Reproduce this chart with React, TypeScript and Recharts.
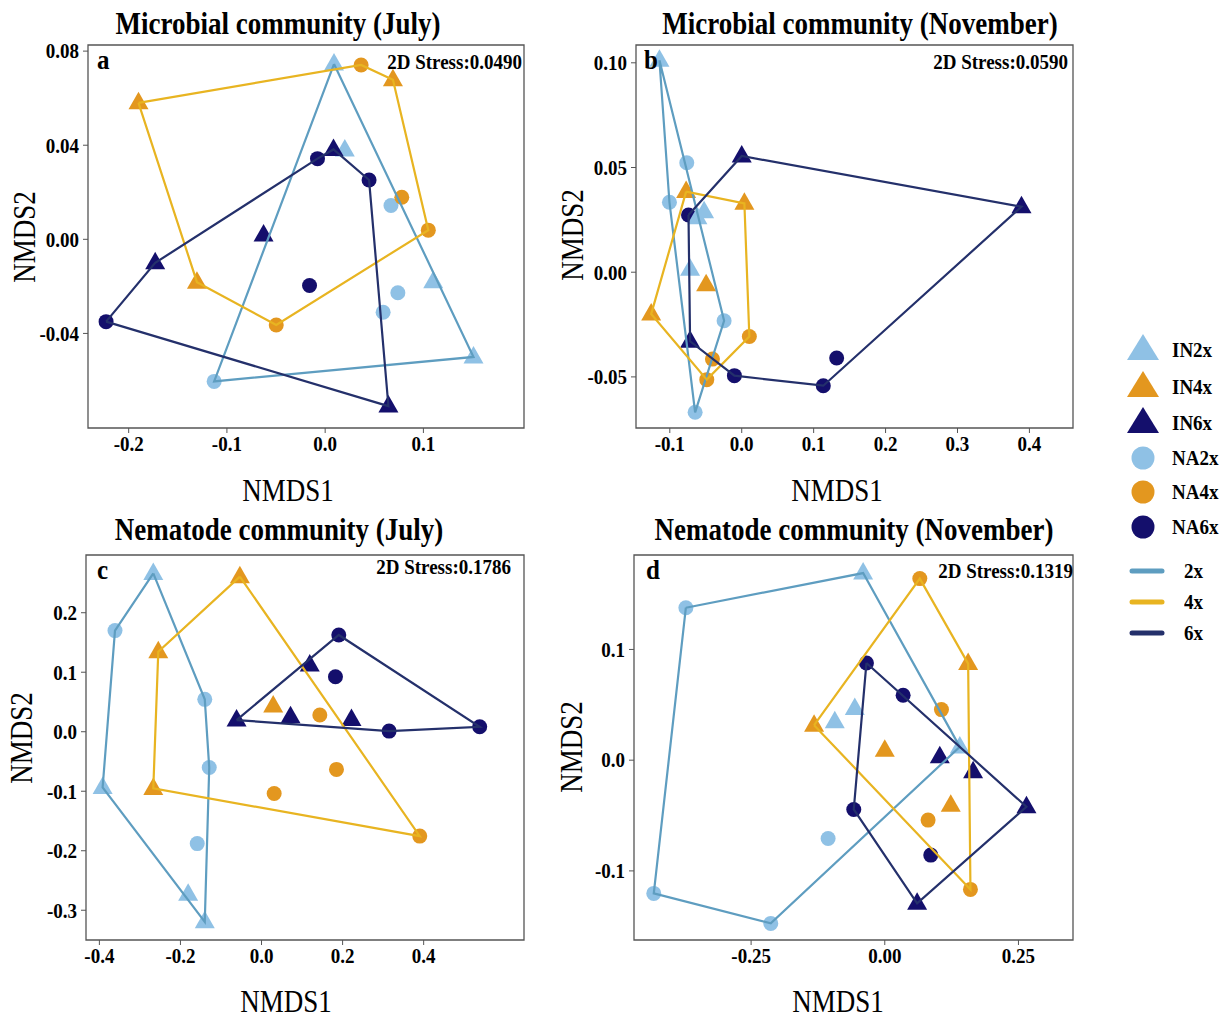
// NMDS ordination, four panels (microbial / nematode, July / November).
import React from "react";
import { ScatterChart, Scatter, XAxis, YAxis, ReferenceArea } from "recharts";

type Pt = { x: number; y: number };
const pts = (rows: number[][]): Pt[] => rows.map(([x, y]) => ({ x, y }));

// colours: points and hull lines per ploidy
const PT2 = "#8fc1e5";
const PT4 = "#e3971f";
const PT6 = "#140f6c";
const LN2 = "#5e9dc0";
const LN4 = "#e8b421";
const LN6 = "#24306b";
const SERIF = "'Liberation Serif', 'Times New Roman', serif";
const STRETCH = 1.13; // glyphs in the original are a little taller than Liberation Serif

// ---- panel a: microbial, July
const aIN2x = pts([[0.009, 0.0745], [0.02, 0.038], [0.11, -0.018], [0.151, -0.05]]);
const aNA2x = pts([[0.067, 0.0144], [0.074, -0.0227], [0.059, -0.031], [-0.113, -0.0604]]);
const aIN4x = pts([[-0.19, 0.058], [0.069, 0.0678], [-0.1305, -0.0182]]);
const aNA4x = pts([[0.0366, 0.0741], [0.078, 0.0179], [0.105, 0.0039], [-0.0498, -0.0364]]);
const aIN6x = pts([[0.0085, 0.0382], [-0.0627, 0.0018], [-0.173, -0.01], [0.0644, -0.0709]]);
const aNA6x = pts([[-0.0078, 0.0343], [0.0447, 0.0252], [-0.0159, -0.0196], [-0.223, -0.035]]);
// hull vertex order, indices into [...IN, ...NA]
const aHull2 = [0, 3, 7, 0];
const aHull4 = [0, 3, 1, 5, 6, 2, 0];
const aHull6 = [7, 2, 4, 0, 5, 3, 7];

// ---- panel b: microbial, November
const bIN2x = pts([[-0.1144, 0.1012], [-0.0616, 0.026], [-0.0523, 0.0289], [-0.0718, 0.0014]]);
const bNA2x = pts([[-0.0764, 0.0523], [-0.1005, 0.0334], [-0.0245, -0.0232], [-0.0648, -0.0669]]);
const bIN4x = pts([[-0.0773, 0.0385], [0.0037, 0.0329], [-0.0495, -0.006], [-0.1259, -0.02]]);
const bNA4x = pts([[0.0106, -0.0307], [-0.0407, -0.0415], [-0.0486, -0.0513]]);
const bIN6x = pts([[0.0, 0.0555], [0.389, 0.0313], [-0.0718, -0.033]]);
const bNA6x = pts([[-0.074, 0.0273], [-0.0102, -0.0494], [0.1134, -0.0542], [0.132, -0.041]]);
const bHull2 = [0, 6, 7, 5, 0];
const bHull4 = [0, 1, 4, 6, 3, 0];
const bHull6 = [3, 0, 1, 5, 4, 2, 3];

// ---- panel c: nematode, July
const cIN2x = pts([[-0.267, 0.266], [-0.392, -0.0936], [-0.181, -0.273], [-0.14, -0.3195]]);
const cNA2x = pts([[-0.3615, 0.17], [-0.14, 0.0544], [-0.129, -0.06], [-0.1586, -0.188]]);
const cIN4x = pts([[-0.0534, 0.2606], [-0.2547, 0.1345], [-0.267, -0.0953], [0.0288, 0.0432]]);
const cNA4x = pts([[0.1438, 0.028], [0.1849, -0.0633], [0.0312, -0.1037], [0.3903, -0.1754]]);
const cIN6x = pts([[-0.0616, 0.0196], [0.119, 0.112], [0.0715, 0.0252], [0.2219, 0.0207]]);
const cNA6x = pts([[0.1906, 0.1626], [0.1824, 0.0925], [0.3147, 0.0011], [0.5382, 0.0084]]);
const cHull2 = [0, 5, 6, 3, 1, 4, 0];
const cHull4 = [0, 7, 2, 1, 0];
const cHull6 = [0, 4, 7, 6, 0];

// ---- panel d: nematode, November
const dIN2x = pts([[-0.0405, 0.169], [-0.0561, 0.0466], [-0.0935, 0.0346], [0.1403, 0.012]]);
const dNA2x = pts([[-0.372, 0.1377], [-0.432, -0.1203], [-0.2132, -0.1474], [-0.106, -0.0707]]);
const dIN4x = pts([[-0.1322, 0.0316], [0.1559, 0.0872], [0.0, 0.009], [0.1234, -0.0406]]);
const dNA4x = pts([[0.0655, 0.164], [0.106, 0.0457], [0.081, -0.0541], [0.1602, -0.1167]]);
const dIN6x = pts([[0.1029, 0.003], [0.1652, -0.0105], [0.265, -0.0421], [0.0605, -0.1293]]);
const dNA6x = pts([[-0.0343, 0.0878], [0.0343, 0.0586], [-0.058, -0.0445], [0.086, -0.0857]]);
const dHull2 = [4, 0, 3, 6, 5, 4];
const dHull4 = [0, 4, 1, 7, 0];
const dHull6 = [4, 2, 3, 6, 4];

const legendPoints = ["IN2x", "IN4x", "IN6x", "NA2x", "NA4x", "NA6x"];
const legendLines = ["2x", "4x", "6x"];

type Group = { IN: Pt[]; NA: Pt[]; hull: number[]; pt: string; ln: string };

const triangle = (color: string) => (p: any) => (
  <polygon
    points={`${p.cx},${p.cy - 11} ${p.cx - 10},${p.cy + 6.5} ${p.cx + 10},${p.cy + 6.5}`}
    fill={color}
  />
);
const circle = (color: string) => (p: any) => <circle cx={p.cx} cy={p.cy} r={7.5} fill={color} />;
const nothing = () => <g />;

// tick label, bold serif, stretched a touch vertically around its own anchor
const tickLabel = (axis: "x" | "y", dec: number) => (p: any) => {
  const baseline = axis === "x" ? p.y + 19 * 0.72 * STRETCH : p.y + 19 * 0.34 * STRETCH;
  return (
    <text
      x={p.x}
      y={0}
      textAnchor={p.textAnchor}
      transform={`translate(0,${baseline}) scale(1,${STRETCH})`}
      fill="#000"
      fontSize={19}
      fontWeight={700}
      fontFamily={SERIF}
    >
      {Number(p.payload.value).toFixed(dec)}
    </text>
  );
};

function Panel(props: {
  box: number[];
  xDomain: number[];
  yDomain: number[];
  xTicks: number[];
  yTicks: number[];
  xDec: number;
  yDec: number;
  groups: Group[];
}) {
  const { box, xDomain, yDomain, xTicks, yTicks, xDec, yDec, groups } = props;
  const W = box[2] - box[0];
  const H = box[3] - box[1];
  return (
    <div style={{ position: "absolute", left: box[0] - 80, top: box[1] - 10 }}>
      <ScatterChart width={80 + W + 10} height={10 + H + 60} margin={{ top: 10, right: 10, bottom: 0, left: 0 }}>
        <XAxis
          type="number"
          dataKey="x"
          domain={xDomain}
          ticks={xTicks}
          interval={0}
          allowDataOverflow
          height={60}
          axisLine={false}
          tickLine={{ stroke: "#555" }}
          tickSize={5}
          tickMargin={3}
          tick={tickLabel("x", xDec)}
        />
        <YAxis
          type="number"
          dataKey="y"
          domain={yDomain}
          ticks={yTicks}
          interval={0}
          allowDataOverflow
          width={80}
          axisLine={false}
          tickLine={{ stroke: "#555" }}
          tickSize={5}
          tickMargin={4}
          tick={tickLabel("y", yDec)}
        />
        <ReferenceArea
          x1={xDomain[0]}
          x2={xDomain[1]}
          y1={yDomain[0]}
          y2={yDomain[1]}
          fill="none"
          stroke="#555"
          strokeWidth={1.3}
          ifOverflow="visible"
        />
        {groups.map((g, i) => (
          <Scatter key={"na" + i} data={g.NA} shape={circle(g.pt)} isAnimationActive={false} />
        ))}
        {groups.map((g, i) => (
          <Scatter key={"in" + i} data={g.IN} shape={triangle(g.pt)} isAnimationActive={false} />
        ))}
        {groups.map((g, i) => {
          const all = [...g.IN, ...g.NA];
          return (
            <Scatter
              key={"hull" + i}
              data={g.hull.map((k) => all[k])}
              line={{ stroke: g.ln, strokeWidth: 2.2 }}
              lineType="joint"
              shape={nothing}
              isAnimationActive={false}
            />
          );
        })}
      </ScatterChart>
    </div>
  );
}

function Txt(props: {
  x: number;
  baseline: number;
  fs: number;
  bold?: boolean;
  align?: "left" | "center" | "right";
  children: React.ReactNode;
}) {
  const { x, baseline, fs, bold, align = "left", children } = props;
  const left = align === "left" ? x : align === "center" ? x - 300 : x - 600;
  return (
    <div
      style={{
        position: "absolute",
        left,
        width: 600,
        top: baseline - 0.8375 * fs,
        fontSize: fs,
        lineHeight: `${fs}px`,
        fontWeight: bold ? 700 : 400,
        fontFamily: SERIF,
        textAlign: align,
        whiteSpace: "nowrap",
        color: "#000",
        transform: `scaleY(${STRETCH})`,
        transformOrigin: `50% ${0.8375 * fs}px`,
      }}
    >
      {children}
    </div>
  );
}

function YLabel({ cx, cy }: { cx: number; cy: number }) {
  return (
    <div
      style={{
        position: "absolute",
        left: cx,
        top: cy,
        transform: `translate(-50%, -50%) rotate(-90deg) scaleY(${STRETCH})`,
        fontSize: 27,
        lineHeight: "27px",
        fontFamily: SERIF,
        whiteSpace: "nowrap",
        color: "#000",
      }}
    >
      NMDS2
    </div>
  );
}

function Legend() {
  const ptColors = [PT2, PT4, PT6, PT2, PT4, PT6];
  const rowsY = [350, 387, 423, 458, 492, 527];
  const lineColors = [LN2, LN4, LN6];
  const linesY = [571, 602, 633];
  return (
    <>
      <svg style={{ position: "absolute", left: 1120, top: 320 }} width={50} height={330}>
        {legendPoints.map((name, i) => {
          const cy = rowsY[i] - 320;
          return name.startsWith("IN") ? (
            <polygon key={name} points={`23,${cy - 16} 7,${cy + 10} 39,${cy + 10}`} fill={ptColors[i]} />
          ) : (
            <circle key={name} cx={23} cy={cy} r={11.5} fill={ptColors[i]} />
          );
        })}
        {legendLines.map((name, i) => (
          <line
            key={name}
            x1={12}
            x2={42}
            y1={linesY[i] - 320}
            y2={linesY[i] - 320}
            stroke={lineColors[i]}
            strokeWidth={5}
            strokeLinecap="round"
          />
        ))}
      </svg>
      {legendPoints.map((name, i) => (
        <Txt key={name} x={1172} baseline={rowsY[i] + 7} fs={19} bold>
          {name}
        </Txt>
      ))}
      {legendLines.map((name, i) => (
        <Txt key={name} x={1184} baseline={linesY[i] + 7} fs={19} bold>
          {name}
        </Txt>
      ))}
    </>
  );
}

export default function App() {
  return (
    <div style={{ position: "absolute", left: 0, top: 0, width: 1228, height: 1019, background: "#fff" }}>
      <Panel
        box={[88, 45, 524, 428]}
        xDomain={[-0.2414, 0.2024]}
        yDomain={[-0.0802, 0.0826]}
        xTicks={[-0.2, -0.1, 0, 0.1]}
        yTicks={[-0.04, 0, 0.04, 0.08]}
        xDec={1}
        yDec={2}
        groups={[
          { IN: aIN2x, NA: aNA2x, hull: aHull2, pt: PT2, ln: LN2 },
          { IN: aIN4x, NA: aNA4x, hull: aHull4, pt: PT4, ln: LN4 },
          { IN: aIN6x, NA: aNA6x, hull: aHull6, pt: PT6, ln: LN6 },
        ]}
      />
      <Panel
        box={[636, 45, 1073, 428]}
        xDomain={[-0.147, 0.4606]}
        yDomain={[-0.0744, 0.1085]}
        xTicks={[-0.1, 0, 0.1, 0.2, 0.3, 0.4]}
        yTicks={[-0.05, 0, 0.05, 0.1]}
        xDec={1}
        yDec={2}
        groups={[
          { IN: bIN2x, NA: bNA2x, hull: bHull2, pt: PT2, ln: LN2 },
          { IN: bIN4x, NA: bNA4x, hull: bHull4, pt: PT4, ln: LN4 },
          { IN: bIN6x, NA: bNA6x, hull: bHull6, pt: PT6, ln: LN6 },
        ]}
      />
      <Panel
        box={[86, 555, 524, 940]}
        xDomain={[-0.433, 0.6475]}
        yDomain={[-0.35, 0.297]}
        xTicks={[-0.4, -0.2, 0, 0.2, 0.4]}
        yTicks={[-0.3, -0.2, -0.1, 0, 0.1, 0.2]}
        xDec={1}
        yDec={1}
        groups={[
          { IN: cIN2x, NA: cNA2x, hull: cHull2, pt: PT2, ln: LN2 },
          { IN: cIN4x, NA: cNA4x, hull: cHull4, pt: PT4, ln: LN4 },
          { IN: cIN6x, NA: cNA6x, hull: cHull6, pt: PT6, ln: LN6 },
        ]}
      />
      <Panel
        box={[634, 555, 1073, 940]}
        xDomain={[-0.469, 0.352]}
        yDomain={[-0.1624, 0.1853]}
        xTicks={[-0.25, 0, 0.25]}
        yTicks={[-0.1, 0, 0.1]}
        xDec={2}
        yDec={1}
        groups={[
          { IN: dIN2x, NA: dNA2x, hull: dHull2, pt: PT2, ln: LN2 },
          { IN: dIN4x, NA: dNA4x, hull: dHull4, pt: PT4, ln: LN4 },
          { IN: dIN6x, NA: dNA6x, hull: dHull6, pt: PT6, ln: LN6 },
        ]}
      />

      <Txt x={278} baseline={35} fs={27} bold align="center">Microbial community (July)</Txt>
      <Txt x={860} baseline={35} fs={27} bold align="center">Microbial community (November)</Txt>
      <Txt x={279} baseline={541} fs={27} bold align="center">Nematode community (July)</Txt>
      <Txt x={854} baseline={541} fs={27} bold align="center">Nematode community (November)</Txt>

      <Txt x={97} baseline={69} fs={25} bold>a</Txt>
      <Txt x={644} baseline={69} fs={25} bold>b</Txt>
      <Txt x={97} baseline={579} fs={25} bold>c</Txt>
      <Txt x={646} baseline={579} fs={25} bold>d</Txt>

      <Txt x={522} baseline={69} fs={19} bold align="right">2D Stress:0.0490</Txt>
      <Txt x={1068} baseline={69} fs={19} bold align="right">2D Stress:0.0590</Txt>
      <Txt x={511} baseline={574} fs={19} bold align="right">2D Stress:0.1786</Txt>
      <Txt x={1073} baseline={578} fs={19} bold align="right">2D Stress:0.1319</Txt>

      <Txt x={288} baseline={502} fs={27} align="center">NMDS1</Txt>
      <Txt x={837} baseline={502} fs={27} align="center">NMDS1</Txt>
      <Txt x={286} baseline={1013} fs={27} align="center">NMDS1</Txt>
      <Txt x={838} baseline={1013} fs={27} align="center">NMDS1</Txt>

      <YLabel cx={25} cy={237} />
      <YLabel cx={573} cy={235} />
      <YLabel cx={22} cy={738} />
      <YLabel cx={572} cy={747} />

      <Legend />
    </div>
  );
}
